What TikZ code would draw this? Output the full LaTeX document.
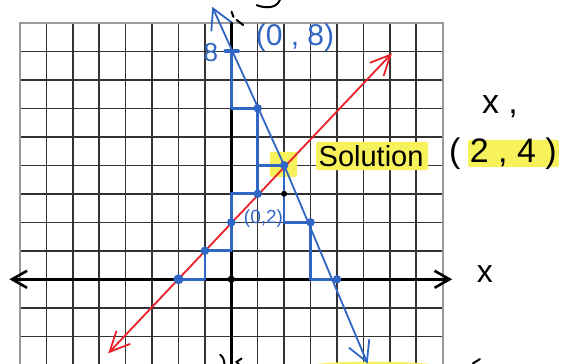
\documentclass[tikz,border=0pt]{standalone}
\usepackage{fontspec}
\setmainfont{Liberation Sans}
\usepackage{tikz}
\usetikzlibrary{arrows.meta}
\definecolor{penblue}{RGB}{48,102,196}
\definecolor{penred}{RGB}{232,34,40}
\definecolor{marker}{RGB}{247,241,92}
\tikzset{
  gridline/.style={line width=1.5pt, black!80},
  borderline/.style={line width=1.8pt, black!40},
  axisline/.style={line width=2.6pt, black, line cap=round},
  axisarrow/.style={axisline, {Straight Barb[length=15pt, width=17pt]}-{Straight Barb[length=15pt, width=17pt]}},
  redline/.style={line width=1.8pt, penred, {Straight Barb[length=20pt, width=19pt]}-{Straight Barb[length=20pt, width=19pt]}},
  blueline/.style={line width=1.8pt, penblue, {Straight Barb[length=20pt, width=22pt]}-{Straight Barb[length=20pt, width=22pt]}},
  stepline/.style={line width=2.6pt, penblue, line cap=round, line join=round},
  dotmark/.style={circle, fill=penblue, inner sep=0pt, minimum size=8.5pt},
  hilite/.style={fill=marker, rounded corners=2pt},
  handlabel/.style={inner sep=0pt}
}
\begin{document}
\begin{tikzpicture}[x=26.42pt, y=28.5pt]
  \fill[white] (-8.755,-2.972) rectangle (12.896,9.8);
  \clip (-8.755,-2.972) rectangle (12.896,9.8);
  % graph paper
  \foreach \i in {-7,...,7} \draw[gridline] (\i,-3) -- (\i,9);
  \foreach \j in {-3,...,8} \draw[gridline] (-8,\j) -- (8,\j);
  \draw[borderline] (-8,-3) -- (-8,9) -- (8,9) -- (8,-3);
  \draw[axisline] (0,-3) -- (0,9);
  \coordinate (xl) at (-8.4,0);
  \coordinate (xr) at (8.36,0);
  \draw[axisarrow] (xl) -- (xr);
  % highlighter
  \fill[hilite] (3.21,3.83) rectangle (7.45,4.82);
  \fill[hilite] (8.96,3.94) rectangle (12.40,4.89);
  \fill[hilite] (1.46,3.59) rectangle (2.49,4.47);
  \fill[marker] (2.72,-3.05) .. controls (3.4,-2.84) and (7.3,-2.84) .. (8.02,-3.05) -- cycle;
  % points
  \coordinate (s8) at (0,8);
  \coordinate (s6) at (1,6);
  \coordinate (sol) at (2,4);
  \coordinate (s2) at (3,2);
  \coordinate (s0) at (4,0);
  \coordinate (r0) at (-2,0);
  \coordinate (r1) at (-1,1);
  \coordinate (r2) at (0,2);
  \coordinate (r3) at (1,3);
  \coordinate (rlo) at (-4.66,-2.6);
  \coordinate (rhi) at (6.08,7.93);
  \coordinate (btop) at (-0.72,9.56);
  \coordinate (bbot) at (5.16,-2.96);
  % lines
  \draw[redline] (rlo) -- (rhi);
  \draw[blueline] (btop) -- (sol) -- (bbot);
  \draw[stepline] (s8) |- (s6);
  \draw[stepline] (s6) |- (sol);
  \draw[stepline] (sol) |- (s2);
  \draw[stepline] (s2) |- (s0);
  \draw[stepline] (r0) -| (r1);
  \draw[stepline] (r1) -| (r2);
  \draw[stepline] (r2) |- (r3);
  \draw[stepline] (r3) |- (sol);
  \draw[stepline, line width=4pt] (-0.22,8) -- (0.25,8);
  \foreach \p in {s6,sol,s2,s0,r1,r2,r3}
    \node[dotmark] (dot-\p) at (\p) {};
  \node[dotmark, minimum size=10pt] (dot-r0) at (r0) {};
  \fill[black] (0,0) circle (3.6pt);
  \fill[black] (2,3) circle (3pt);
  % labels
  \node[handlabel, penblue, font=\fontsize{30}{32}\selectfont] (lab8) at (2.41,8.47) {(0 , 8)};
  \node[handlabel, penblue, font=\fontsize{26}{28}\selectfont] (eight) at (-0.77,7.97) {8};
  \node[handlabel, penblue, font=\fontsize{19}{21}\selectfont] (lab2) at (1.22,2.12) {(0,2)};
  \node[handlabel, font=\fontsize{29}{31}\selectfont] (soltext) at (5.29,4.33) {Solution};
  \node[handlabel, font=\fontsize{34}{36}\selectfont] (solpair) at (10.28,4.40) {( 2 , 4 )};
  \node[handlabel, font=\fontsize{34}{36}\selectfont] (pairhead) at (10.17,6.05) {x ,};
  \node[handlabel, font=\fontsize{32}{34}\selectfont] (xlabel) at (9.60,0.2) {x};
  % cut-off pen marks at the edges
  \draw[line width=2pt, line cap=round] (0.96,9.62) .. controls (1.3,9.5) and (1.7,9.5) .. (1.84,9.8);
  \draw[line width=2pt, line cap=round] (0.01,9.39) -- (0.08,9.21);
  \draw[line width=2pt, line cap=round] (0.20,9.10) -- (0.45,8.92);
  \draw[line width=2pt, line cap=round] (-0.42,-2.65) .. controls (-0.3,-2.75) .. (-0.25,-3);
  \draw[line width=2pt, line cap=round] (0.39,-2.78) -- (0.2,-2.9) -- (0.3,-3);
  \draw[line width=2pt, line cap=round] (9.15,-2.95) -- (9.41,-2.8);
\end{tikzpicture}
\end{document}
